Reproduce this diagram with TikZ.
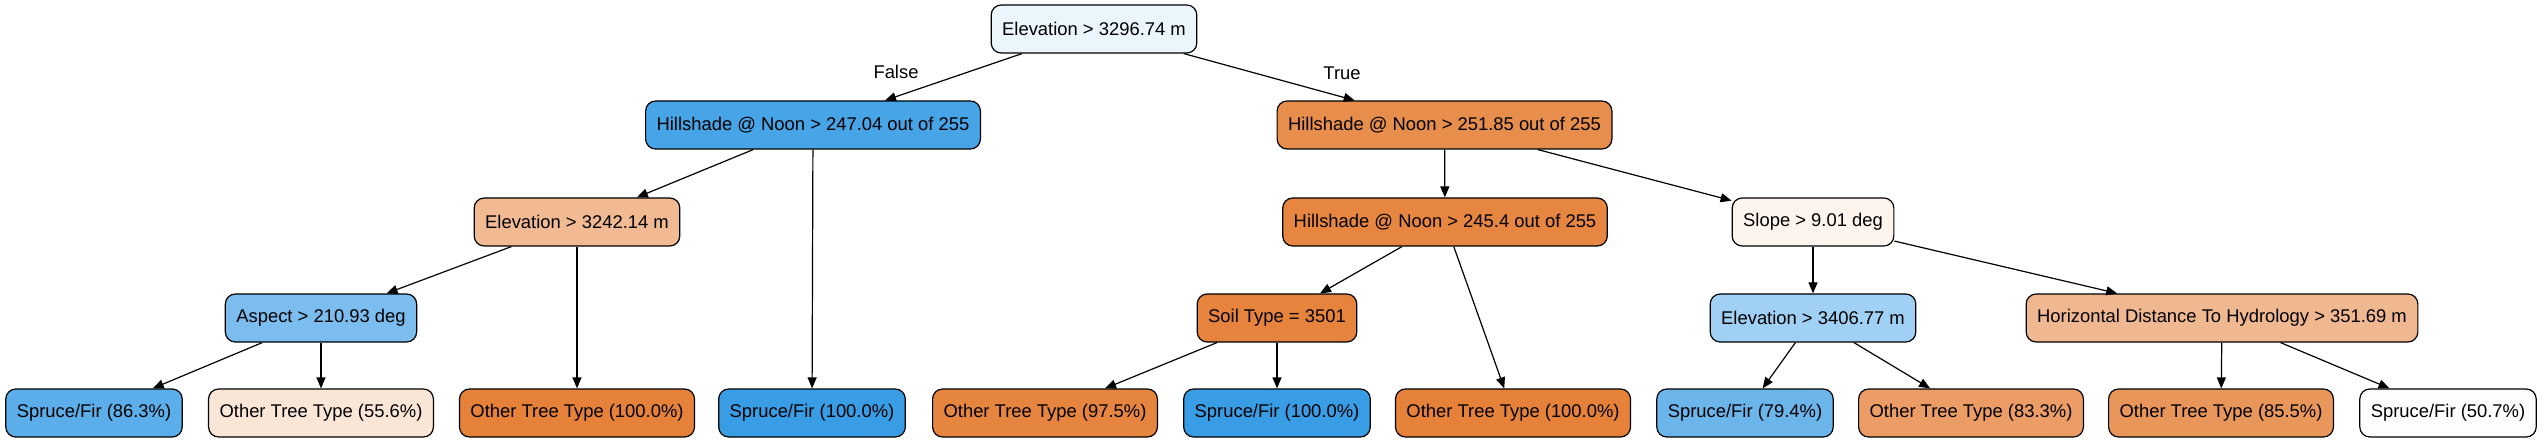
\documentclass[tikz,border=0pt]{standalone}
\usepackage{fontspec}
\setmainfont{Liberation Sans}
\usepackage{xcolor}
\usepackage{tikz}
\usetikzlibrary{arrows.meta,positioning}
\definecolor{dtorange}{HTML}{E58139}
\definecolor{dtblue}{HTML}{399DE5}
\tikzset{
  splitedge/.style={-{Triangle[length=5.5pt,width=4.5pt]}, line width=0.6pt, draw=black},
  treenode/.style={draw=black, line width=0.6pt, rounded corners=5pt, align=center,
    inner xsep=5.5pt, inner ysep=0pt, minimum height=24pt,
    font=\fontsize{9.2}{11}\selectfont},
  edgelabel/.style={font=\fontsize{9.2}{11}\selectfont, inner sep=1pt}
}
\begin{document}
\begin{tikzpicture}[
        x=0.5pt, y=-0.5pt,
        bluebox/.style={treenode, fill=dtblue!#1!white},
        orangebox/.style={treenode, fill=dtorange!#1!white}
    ]
        \useasboundingbox (0,0) rectangle (2543,443);

        \node[bluebox=10] (root) at (1094,29) {Elevation > 3296.74 m};

        \node[bluebox=93] (hillA) at (813,125) {Hillshade @ Noon > 247.04 out of 255};
        \node[orangebox=90] (hillB) at (1444.5,125) {Hillshade @ Noon > 251.85 out of 255};

        \node[orangebox=55] (elevA) at (577,222) {Elevation > 3242.14 m};
        \node[orangebox=96] (hillC) at (1445,222) {Hillshade @ Noon > 245.4 out of 255};
        \node[orangebox=9] (slope) at (1813,222) {Slope > 9.01 deg};

        \node[bluebox=67] (aspect) at (321,318) {Aspect > 210.93 deg};
        \node[orangebox=98] (soil) at (1277,318) {Soil Type = 3501};
        \node[bluebox=48] (elevB) at (1813,318) {Elevation > 3406.77 m};
        \node[orangebox=56] (hdist) at (2222,318) {Horizontal Distance To Hydrology > 351.69 m};

        \node[bluebox=83] (leafA) at (94,413) {Spruce/Fir (86.3\%)};
        \node[orangebox=20] (leafB) at (321,413) {Other Tree Type (55.6\%)};
        \node[orangebox=100] (leafC) at (577,413) {Other Tree Type (100.0\%)};
        \node[bluebox=100] (leafD) at (812,413) {Spruce/Fir (100.0\%)};
        \node[orangebox=97] (leafE) at (1045,413) {Other Tree Type (97.5\%)};
        \node[bluebox=100] (leafF) at (1277,413) {Spruce/Fir (100.0\%)};
        \node[orangebox=100] (leafG) at (1513,413) {Other Tree Type (100.0\%)};
        \node[bluebox=75] (leafH) at (1745,413) {Spruce/Fir (79.4\%)};
        \node[orangebox=78] (leafI) at (1971,413) {Other Tree Type (83.3\%)};
        \node[orangebox=83] (leafJ) at (2221,413) {Other Tree Type (85.5\%)};
        \node[bluebox=2] (leafK) at (2448,413) {Spruce/Fir (50.7\%)};

        \node[edgelabel] (lblfalse) at (896,72) {False};
        \node[edgelabel] (lbltrue) at (1342,73) {True};

        \draw[splitedge] (root) -- (hillA);
        \draw[splitedge] (root) -- (hillB);
        \draw[splitedge] (hillA) -- (elevA);
        \draw[splitedge] (hillA) -- (leafD);
        \draw[splitedge] (elevA) -- (aspect);
        \draw[splitedge] (elevA) -- (leafC);
        \draw[splitedge] (aspect) -- (leafA);
        \draw[splitedge] (aspect) -- (leafB);
        \draw[splitedge] (hillB) -- (hillC);
        \draw[splitedge] (hillB) -- (slope);
        \draw[splitedge] (hillC) -- (soil);
        \draw[splitedge] (hillC) -- (leafG);
        \draw[splitedge] (soil) -- (leafE);
        \draw[splitedge] (soil) -- (leafF);
        \draw[splitedge] (slope) -- (elevB);
        \draw[splitedge] (slope) -- (hdist);
        \draw[splitedge] (elevB) -- (leafH);
        \draw[splitedge] (elevB) -- (leafI);
        \draw[splitedge] (hdist) -- (leafJ);
        \draw[splitedge] (hdist) -- (leafK);
    \end{tikzpicture}
\end{document}
